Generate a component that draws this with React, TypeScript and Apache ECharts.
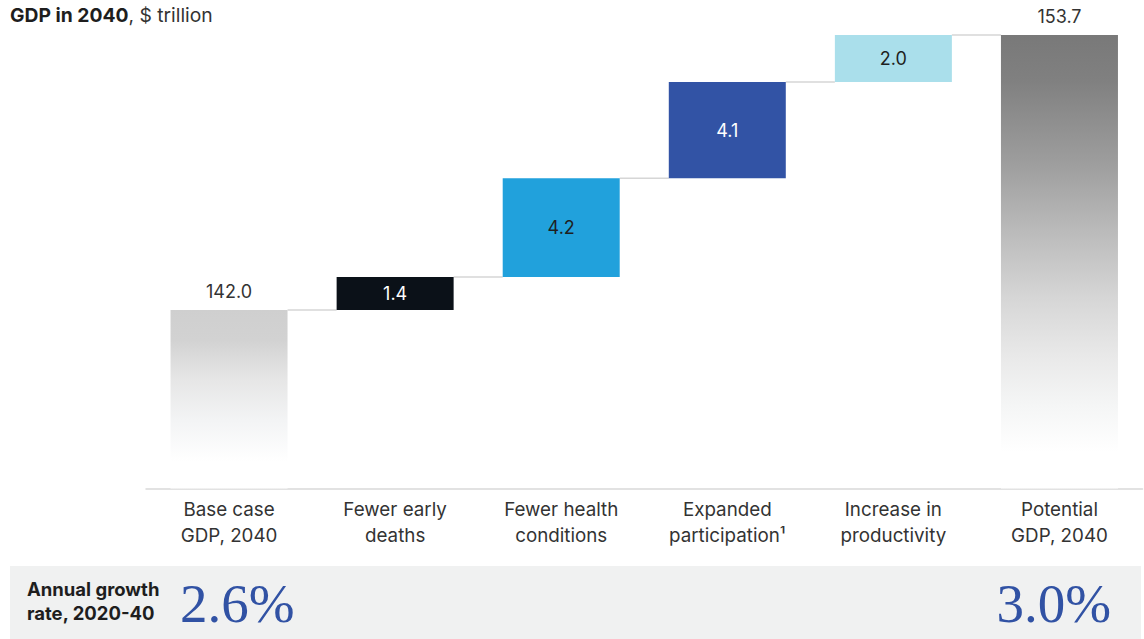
import React, { useEffect, useRef } from "react";
import * as echarts from "echarts";

const categories = [
  "Base case\nGDP, 2040",
  "Fewer early\ndeaths",
  "Fewer health\nconditions",
  "Expanded\nparticipation¹",
  "Increase in\nproductivity",
  "Potential\nGDP, 2040",
];
const baseValue = 142.0;
const deltas = [1.4, 4.2, 4.1, 2.0];
const totalValue = 153.7;
const deltaColors = ["#0b1118", "#21a1dc", "#3253a5", "#aadfeb"];
const deltaLabelColors = ["#ffffff", "#1f1f1f", "#ffffff", "#1f1f1f"];
const growthBase = "2.6%";
const growthPotential = "3.0%";

const Y_MIN = 134.4;
const Y_MAX = 155;
const BAR_W = 117;
const FONT = "Inter, Roboto, sans-serif";

export default function App() {
  const ref = useRef<HTMLDivElement>(null);

  useEffect(() => {
    document.body.style.margin = "0";
    const chart = echarts.init(ref.current!, null, { renderer: "svg" });

    const starts: number[] = [];
    let acc = baseValue;
    deltas.forEach((d) => {
      starts.push(acc);
      acc = +(acc + d).toFixed(1);
    });
    const levels = [baseValue, ...deltas.map((_, i) => +(starts[i] + deltas[i]).toFixed(1))];

    const helperData: any[] = ["-", ...starts, "-"];

    const baseGrad = new echarts.graphic.LinearGradient(0, 0, 0, 1, [
      { offset: 0, color: "#cfcfcf" },
      { offset: 0.17, color: "#d2d2d2" },
      { offset: 0.39, color: "#e6e6e6" },
      { offset: 0.62, color: "#f3f4f5" },
      { offset: 0.85, color: "#ffffff" },
      { offset: 1, color: "#ffffff" },
    ]);
    const totalGrad = new echarts.graphic.LinearGradient(0, 0, 0, 1, [
      { offset: 0, color: "#797979" },
      { offset: 0.1, color: "#808080" },
      { offset: 0.28, color: "#9d9d9d" },
      { offset: 0.43, color: "#bababa" },
      { offset: 0.58, color: "#d6d6d6" },
      { offset: 0.71, color: "#e9e9e9" },
      { offset: 0.82, color: "#f5f6f6" },
      { offset: 0.92, color: "#ffffff" },
      { offset: 1, color: "#ffffff" },
    ]);

    const topLabel = (txt: string) => ({
      show: true,
      position: "top",
      distance: 9,
      color: "#333333",
      fontSize: 18,
      fontFamily: FONT,
      formatter: txt,
    });

    const visibleData: any[] = [
      { value: baseValue, itemStyle: { color: baseGrad }, label: topLabel(baseValue.toFixed(1)) },
      ...deltas.map((d, i) => ({
        value: d,
        itemStyle: { color: deltaColors[i] },
        label: {
          show: true,
          position: "inside",
          color: deltaLabelColors[i],
          fontSize: 18,
          fontFamily: FONT,
          formatter: d.toFixed(1),
        },
      })),
      { value: totalValue, itemStyle: { color: totalGrad }, label: topLabel(totalValue.toFixed(1)) },
    ];

    const connectorData = levels.map((v, i) => [i, v]);

    chart.setOption({
      animation: false,
      grid: { left: 146, right: 1.5, top: 4.4, bottom: 150.4, containLabel: false },
      xAxis: {
        type: "category",
        data: categories,
        axisLine: { show: true, onZero: false, lineStyle: { color: "#d9d9d9", width: 1.5 } },
        axisTick: { show: false },
        axisLabel: {
          color: "#333333",
          fontSize: 18.8,
          lineHeight: 26,
          margin: 8,
          fontFamily: FONT,
          interval: 0,
        },
      },
      yAxis: {
        type: "value",
        min: Y_MIN,
        max: Y_MAX,
        show: false,
        splitLine: { show: false },
      },
      series: [
        {
          type: "custom",
          z: 1,
          data: connectorData,
          renderItem: (params: any, api: any) => {
            const i = api.value(0);
            const v = api.value(1);
            const p1 = api.coord([i, v]);
            const p2 = api.coord([i + 1, v]);
            return {
              type: "line",
              shape: { x1: p1[0] + BAR_W / 2, y1: p1[1], x2: p2[0] - BAR_W / 2, y2: p2[1] },
              style: { stroke: "#d6d6d6", lineWidth: 1.5 },
            };
          },
        },
        {
          type: "bar",
          stack: "w",
          barWidth: BAR_W,
          itemStyle: { color: "transparent" },
          data: helperData,
          silent: true,
          z: 2,
        },
        {
          type: "bar",
          stack: "w",
          barWidth: BAR_W,
          data: visibleData,
          z: 3,
        },
      ],
      graphic: [
        {
          type: "text",
          left: 10,
          top: 5,
          style: {
            text: "{b|GDP in 2040}{r|, $ trillion}",
            rich: {
              b: { fontSize: 19.3, fontWeight: "bold", fill: "#1e1e1e", fontFamily: FONT },
              r: { fontSize: 19.3, fill: "#333333", fontFamily: FONT },
            },
          },
        },
        {
          type: "rect",
          shape: { x: 10, y: 566, width: 1131, height: 73 },
          style: { fill: "#f0f1f1" },
          z: -1,
        },
        {
          type: "text",
          x: 27,
          y: 577,
          style: {
            text: "Annual growth\nrate, 2020-40",
            fontSize: 18.5,
            fontWeight: "bold",
            lineHeight: 24,
            fill: "#1e1e1e",
            fontFamily: FONT,
          },
        },
        {
          type: "text",
          x: 180,
          y: 603,
          style: {
            text: growthBase,
            fontSize: 55,
            fill: "#3152a4",
            fontFamily: "'Liberation Serif', 'DejaVu Serif', serif",
            verticalAlign: "middle",
          },
        },
        {
          type: "text",
          x: 1111,
          y: 603,
          style: {
            text: growthPotential,
            fontSize: 55,
            fill: "#3152a4",
            align: "right",
            fontFamily: "'Liberation Serif', 'DejaVu Serif', serif",
            verticalAlign: "middle",
          },
        },
      ],
    });

    return () => chart.dispose();
  }, []);

  return <div ref={ref} style={{ width: 1144, height: 639 }} />;
}
